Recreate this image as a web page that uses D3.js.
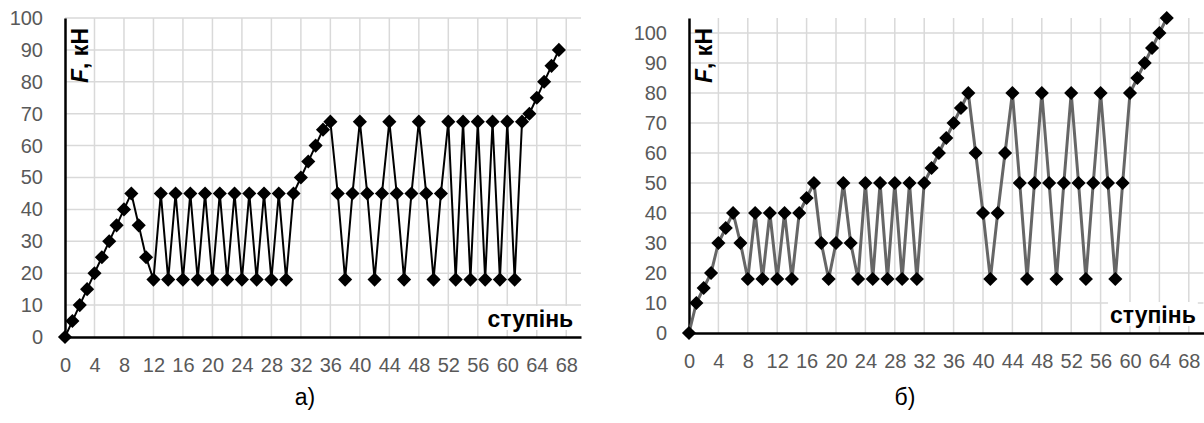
<!DOCTYPE html>
<html>
<head>
<meta charset="utf-8">
<script src="https://cdn.jsdelivr.net/npm/d3@7"></script>
<style>
  body { margin: 0; background: #fff; }
  svg { display: block; font-family: "Liberation Sans", Arial, sans-serif; }
</style>
</head>
<body>
<div id="chart"></div>
<script>
// step number = index in the array
const forceA = [0, 5, 10, 15, 20, 25, 30, 35, 40, 45, 35, 25, 18, 45, 18, 45, 18, 45, 18, 45,
  18, 45, 18, 45, 18, 45, 18, 45, 18, 45, 18, 45, 50, 55, 60, 65, 67.5, 45, 18, 45,
  67.5, 45, 18, 45, 67.5, 45, 18, 45, 67.5, 45, 18, 45, 67.5, 18, 67.5, 18, 67.5, 18, 67.5, 18,
  67.5, 18, 67.5, 70, 75, 80, 85, 90];

const forceB = [0, 10, 15, 20, 30, 35, 40, 30, 18, 40, 18, 40, 18, 40, 18, 40, 45, 50, 30, 18,
  30, 50, 30, 18, 50, 18, 50, 18, 50, 18, 50, 18, 50, 55, 60, 65, 70, 75, 80, 60,
  40, 18, 40, 60, 80, 50, 18, 50, 80, 50, 18, 50, 80, 50, 18, 50, 80, 50, 18, 50,
  80, 85, 90, 95, 100, 105];

const xTicks = [0, 4, 8, 12, 16, 20, 24, 28, 32, 36, 40, 44, 48, 52, 56, 60, 64, 68];
const yTicks = [0, 10, 20, 30, 40, 50, 60, 70, 80, 90, 100];

const yTitle = ["F", ", кН"];
const xTitle = "ступінь";
const panelLabels = ["а)", "б)"];

const width = 1204, height = 423;

const svg = d3.select("#chart").append("svg")
  .attr("width", width)
  .attr("height", height);

function drawPanel(opts) {
  const { data, left, right, top, bottom, yMax, lineColor, lineWidth, label, labelX } = opts;

  const x = d3.scaleLinear().domain([0, 70]).range([left, right]);
  const y = d3.scaleLinear().domain([0, yMax]).range([bottom, top]);

  const g = svg.append("g");

  // gridlines
  g.append("g").selectAll("line.h")
    .data(yTicks.filter(d => d > 0))
    .enter().append("line")
    .attr("x1", x(0)).attr("x2", x(70))
    .attr("y1", d => y(d)).attr("y2", d => y(d))
    .attr("stroke", "#d9d9d9").attr("stroke-width", 1.5);

  g.append("g").selectAll("line.v")
    .data(xTicks.filter(d => d > 0))
    .enter().append("line")
    .attr("x1", d => x(d)).attr("x2", d => x(d))
    .attr("y1", y(0)).attr("y2", y(yMax))
    .attr("stroke", "#d9d9d9").attr("stroke-width", 1.5);

  // axes
  const xAxis = g.append("g")
    .attr("transform", `translate(0,${y(0)})`)
    .call(d3.axisBottom(x).tickValues(xTicks).tickSize(0).tickPadding(21));
  xAxis.select(".domain").attr("stroke", "#000").attr("stroke-width", 2.5);
  xAxis.selectAll("text").attr("fill", "#595959").attr("font-size", "20px")
    .attr("font-family", "Liberation Sans, Arial, sans-serif");

  const yAxis = g.append("g")
    .attr("transform", `translate(${x(0)},0)`)
    .call(d3.axisLeft(y).tickValues(yTicks).tickSize(0).tickPadding(22));
  yAxis.select(".domain").attr("stroke", "#000").attr("stroke-width", 2.5);
  yAxis.selectAll("text").attr("fill", "#595959").attr("font-size", "20px")
    .attr("font-family", "Liberation Sans, Arial, sans-serif");

  // series line
  const line = d3.line()
    .x((d, i) => x(i))
    .y(d => y(d));

  g.append("path")
    .datum(data)
    .attr("fill", "none")
    .attr("stroke", lineColor)
    .attr("stroke-width", lineWidth)
    .attr("stroke-linejoin", "round")
    .attr("d", line);

  // diamond markers
  const diamond = d3.symbol().type(d3.symbolSquare).size(100);
  g.append("g").selectAll("path")
    .data(data)
    .enter().append("path")
    .attr("d", diamond)
    .attr("transform", (d, i) => `translate(${x(i)},${y(d)}) rotate(45)`)
    .attr("fill", "#000");

  // y title, rotated
  const yt = g.append("text")
    .attr("transform", `translate(${x(0) + 23},${top + 10}) rotate(-90)`)
    .attr("text-anchor", "end")
    .attr("font-size", "23px")
    .attr("font-weight", "bold")
    .attr("fill", "#000");
  yt.append("tspan").attr("font-style", "italic").text(yTitle[0]);
  yt.append("tspan").text(yTitle[1]);

  // x title with white box
  const xt = g.append("text")
    .attr("x", x(68) + 7)
    .attr("y", y(0) - 10)
    .attr("text-anchor", "end")
    .attr("font-size", "23px")
    .attr("font-weight", "bold")
    .attr("fill", "#000")
    .text(xTitle);
  const bb = xt.node().getBBox();
  g.insert("rect", () => xt.node())
    .attr("x", bb.x - 2).attr("y", bb.y)
    .attr("width", bb.width + 4).attr("height", bb.height - 2)
    .attr("fill", "#fff");

  // panel label
  svg.append("text")
    .attr("x", labelX)
    .attr("y", 405)
    .attr("text-anchor", "middle")
    .attr("font-size", "23px")
    .attr("fill", "#000")
    .text(label);
}

drawPanel({
  data: forceA, left: 65, right: 581, top: 18, bottom: 337, yMax: 100,
  lineColor: "#000", lineWidth: 2, label: panelLabels[0], labelX: 305
});

drawPanel({
  data: forceB, left: 689, right: 1203.5, top: 18, bottom: 333, yMax: 105,
  lineColor: "#666", lineWidth: 3, label: panelLabels[1], labelX: 905
});
</script>
</body>
</html>
